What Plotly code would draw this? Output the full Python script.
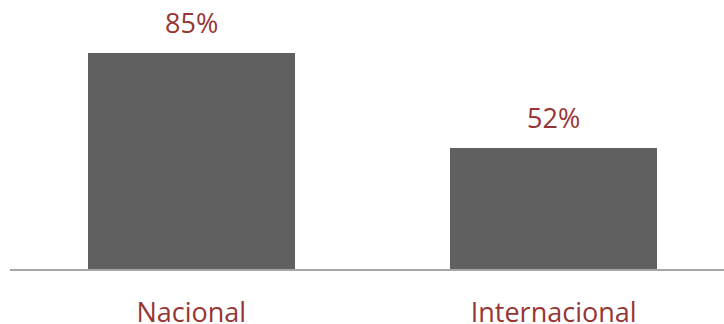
import plotly.graph_objects as go

categories = ["Nacional", "Internacional"]
values = [85, 52]
value_labels = ["85%", "52%"]

BAR_COLOR = "#606060"
TEXT_COLOR = "#963634"
FONT = "Open Sans"

fig = go.Figure()
fig.add_trace(go.Bar(
    x=[0, 1],
    y=values,
    width=0.571,
    marker=dict(color=BAR_COLOR, line=dict(width=0)),
    hoverinfo="skip",
))

for i, (v, t) in enumerate(zip(values, value_labels)):
    fig.add_annotation(x=i, y=v, text=t, showarrow=False, yanchor="bottom",
                       yshift=10, font=dict(family=FONT, size=27, color=TEXT_COLOR))

fig.update_layout(
    width=724, height=324,
    margin=dict(l=10, r=0, t=10, b=55, autoexpand=False),
    paper_bgcolor="white", plot_bgcolor="white",
    showlegend=False,
    bargap=0,
)
fig.update_xaxes(
    tickmode="array", tickvals=[0, 1], ticktext=categories,
    range=[-0.5, 1.47],
    showline=True, linecolor="#a6a6a6", linewidth=2,
    showgrid=False, zeroline=False, automargin=False,
    ticks="", ticklabelstandoff=19,
    tickfont=dict(family=FONT, size=27, color=TEXT_COLOR),
)
fig.update_yaxes(
    range=[10, 100], visible=False, showgrid=False, zeroline=False,
    automargin=False,
)

fig.write_html(
    "out.html",
    config={"displayModeBar": False, "staticPlot": True},
    post_script="document.body.style.margin='0';document.body.style.overflow='hidden';",
)
